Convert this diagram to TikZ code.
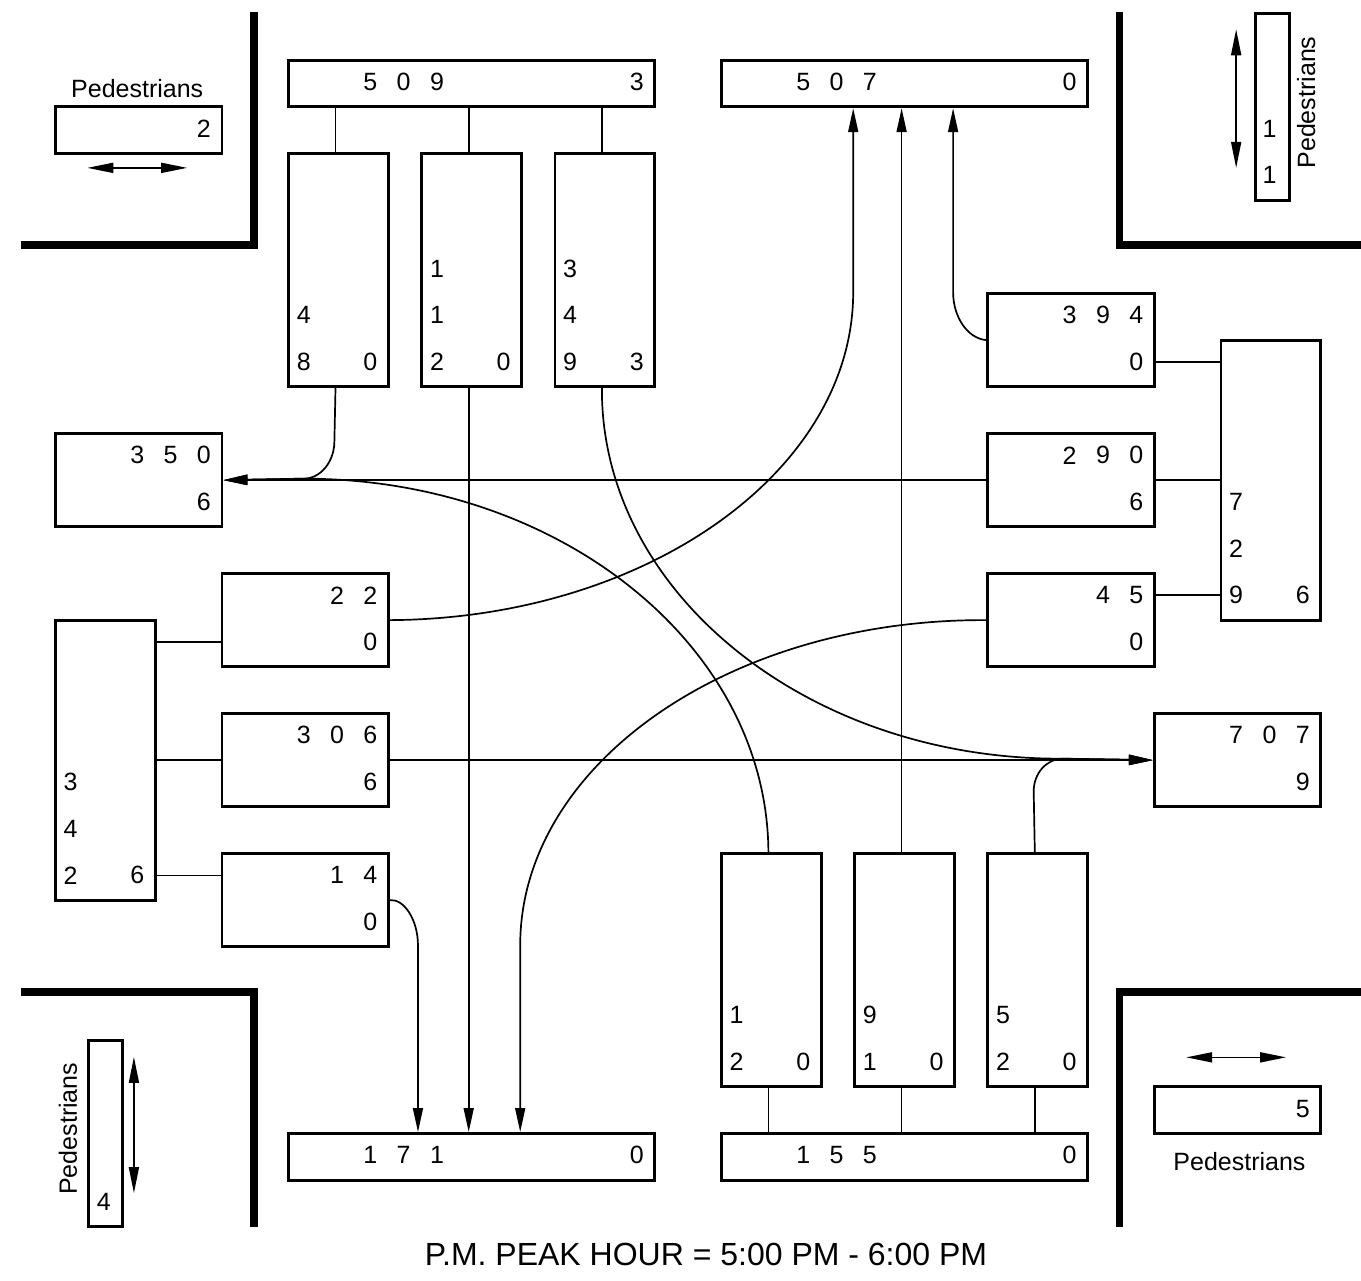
\documentclass[tikz,border=0pt]{standalone}
\usepackage{fontspec}
\setmainfont{Liberation Sans}
\usetikzlibrary{arrows.meta}
\newcommand\dg[3]{\node[dig] (d#1x#2) at ({#1+0.5},{#2+0.5}) {#3};}
\begin{document}
\begin{tikzpicture}[x=33.3pt, y=-46.667pt,
  box/.style={draw, line width=2.9pt, inner sep=0pt, anchor=north west},
  sz/.style 2 args={minimum width={#1*33.3pt}, minimum height={#2*46.667pt}},
  dig/.style={font=\fontsize{25}{30}\selectfont, inner sep=0pt},
  con/.style={line width=1.7pt},
  arr/.style={con, -{Triangle[length=24pt,width=10pt]}},
  ped/.style={line width=1.7pt, {Triangle[length=26pt,width=10pt]}-{Triangle[length=26pt,width=10pt]}},
  wall/.style={line width=7.7pt},
  sh/.style={xshift=-3pt},
]
\useasboundingbox (-1.62162,-0.25714) rectangle (39.2492,27.1918);

% walls
\draw[wall] (-1,5) -- (6,5) -- (6,0);
\draw[wall] (32,0) -- (32,5) -- (39.4,5);
\draw[wall] (-1,21) -- (6,21) -- (6,26.04);
\draw[wall] (39.4,21) -- (32,21) -- (32,26.04);

% boxes
\node[box,sz={11}{1}] (bN) at (7,1) {};
\node[box,sz={11}{1}] (bNo) at (20,1) {};
\node[box,sz={3}{5}] (bN1) at (7,3) {};
\node[box,sz={3}{5}] (bN2) at (11,3) {};
\node[box,sz={3}{5}] (bN3) at (15,3) {};
\node[box,sz={5}{2}] (bWo) at (0,9) {};
\node[box,sz={5}{2}] (bW1) at (5,12) {};
\node[box,sz={5}{2}] (bW2) at (5,15) {};
\node[box,sz={5}{2}] (bW3) at (5,18) {};
\node[box,sz={3}{6}] (bW) at (0,13) {};
\node[box,sz={5}{2}] (bE1) at (28,6) {};
\node[box,sz={5}{2}] (bE2) at (28,9) {};
\node[box,sz={5}{2}] (bE3) at (28,12) {};
\node[box,sz={3}{6}] (bE) at (35,7) {};
\node[box,sz={5}{2}] (bEo) at (33,15) {};
\node[box,sz={3}{5}] (bS1) at (20,18) {};
\node[box,sz={3}{5}] (bS2) at (24,18) {};
\node[box,sz={3}{5}] (bS3) at (28,18) {};
\node[box,sz={11}{1}] (bSo) at (7,24) {};
\node[box,sz={11}{1}] (bS) at (20,24) {};
% pedestrian boxes
\node[box,sz={5}{1}] (pNW) at (0,2) {};
\node[box,sz={1}{4}] (pNE) at (36.05,0) {};
\node[box,sz={1}{4}] (pSW) at (1,22) {};
\node[box,sz={5}{1}] (pSE) at (33,23) {};

% digits
\dg{9}{1}{5}\dg{10}{1}{0}\dg{11}{1}{9}\dg{17}{1}{3}
\dg{22}{1}{5}\dg{23}{1}{0}\dg{24}{1}{7}\dg{30}{1}{0}
\dg{7}{6}{4}\dg{7}{7}{8}\dg{9}{7}{0}
\dg{11}{5}{1}\dg{11}{6}{1}\dg{11}{7}{2}\dg{13}{7}{0}
\dg{15}{5}{3}\dg{15}{6}{4}\dg{15}{7}{9}\dg{17}{7}{3}
\dg{2}{9}{3}\dg{3}{9}{5}\dg{4}{9}{0}\dg{4}{10}{6}
\dg{8}{12}{2}\dg{9}{12}{2}\dg{9}{13}{0}
\dg{7}{15}{3}\dg{8}{15}{0}\dg{9}{15}{6}\dg{9}{16}{6}
\dg{8}{18}{1}\dg{9}{18}{4}\dg{9}{19}{0}
\dg{0}{16}{3}\dg{0}{17}{4}\dg{0}{18}{2}\dg{2}{18}{6}
\dg{30}{6}{3}\dg{31}{6}{9}\dg{32}{6}{4}\dg{32}{7}{0}
\dg{30}{9}{2}\dg{31}{9}{9}\dg{32}{9}{0}\dg{32}{10}{6}
\dg{31}{12}{4}\dg{32}{12}{5}\dg{32}{13}{0}
\dg{35}{10}{7}\dg{35}{11}{2}\dg{35}{12}{9}\dg{37}{12}{6}
\dg{35}{15}{7}\dg{36}{15}{0}\dg{37}{15}{7}\dg{37}{16}{9}
\dg{20}{21}{1}\dg{20}{22}{2}\dg{22}{22}{0}
\dg{24}{21}{9}\dg{24}{22}{1}\dg{26}{22}{0}
\dg{28}{21}{5}\dg{28}{22}{2}\dg{30}{22}{0}
\dg{9}{24}{1}\dg{10}{24}{7}\dg{11}{24}{1}\dg{17}{24}{0}
\dg{22}{24}{1}\dg{23}{24}{5}\dg{24}{24}{5}\dg{30}{24}{0}
\dg{4}{2}{2}
\dg{36}{2}{1}\dg{36}{3}{1}
\dg{1}{25}{4}
\dg{37}{23}{5}

% pedestrian labels
\node[dig] (tNW) at (2.5,1.63) {Pedestrians};
\node[dig, rotate=90] (tNE) at (37.6,1.94) {Pedestrians};
\node[dig, rotate=90] (tSW) at (0.42,23.93) {Pedestrians};
\node[dig] (tSE) at (35.6,24.64) {Pedestrians};
\node[font=\fontsize{32}{38}\selectfont, inner sep=0pt] (cap) at (19.58,26.62) {P.M. PEAK HOUR = 5:00 PM - 6:00 PM};

% pedestrian arrows
\coordinate (pa1) at (1,3.34); \coordinate (pa2) at (4,3.34);
\coordinate (pb1) at (35.5,0.37); \coordinate (pb2) at (35.5,3.34);
\coordinate (pc1) at (2.4,22.39); \coordinate (pc2) at (2.4,25.31);
\coordinate (pd1) at (34,22.4); \coordinate (pd2) at (37,22.4);
\draw[ped] (pa1) -- (pa2);
\draw[ped] (pb1) -- (pb2);
\draw[ped] (pc1) -- (pc2);
\draw[ped] (pd1) -- (pd2);

% lane connectors
\draw[con] ([sh]bN1.north) -- ([sh]bN1.north |- bN.south);
\draw[con] ([sh]bN2.north) -- ([sh]bN2.north |- bN.south);
\draw[con] ([sh]bN3.north) -- ([sh]bN3.north |- bN.south);
\draw[con] ([sh]bS1.south) -- ([sh]bS1.south |- bS.north);
\draw[con] ([sh]bS2.south) -- ([sh]bS2.south |- bS.north);
\draw[con] ([sh]bS3.south) -- ([sh]bS3.south |- bS.north);
\coordinate (yL1) at (0,13.5); \coordinate (yL3) at (0,18.5);
\coordinate (yR1) at (0,7.5); \coordinate (yR3) at (0,12.5);
\draw[con] (bW.east |- yL1) -- (bW1.west |- yL1);
\draw[con] (bW.east |- bW2.west) -- (bW2.west);
\draw[con] (bW.east |- yL3) -- (bW3.west |- yL3);
\draw[con] (bE1.east |- yR1) -- (bE.west |- yR1);
\draw[con] (bE2.east) -- (bE.west |- bE2.east);
\draw[con] (bE3.east |- yR3) -- (bE.west |- yR3);

% movements
\coordinate (xE) at (24,0); \coordinate (xF) at (27,0);
\coordinate (xH) at (14,0); \coordinate (xJ) at (10.93,0);
\draw[arr] (bE2.west) -- (bWo.east);
\draw[arr] (bW2.east) -- (bEo.west);
\draw[arr] ([sh]bN1.south) -- (8.42,9.2) .. controls (8.42,9.64) and (8.0,10) .. (7.5,10) -- (bWo.east);
\draw[arr] ([sh]bS1.north) .. controls (21.42,13.58) and (15.19,10) .. (7.5,10) -- (bWo.east);
\draw[arr] ([sh]bN3.south) .. controls (16.42,12.42) and (22.59,16) .. (30.2,16) -- (bEo.west);
\draw[arr] ([sh]bS3.north) -- (29.42,16.7) .. controls (29.42,16.31) and (29.81,16) .. (30.3,16) -- (bEo.west);
\draw[arr] (bW1.east) .. controls (17.73,13) and (24,9.87) .. (24,6) -- (xE |- bNo.south);
\draw[arr] (bE1.west) .. controls (27.45,7) and (27,6.55) .. (27,6) -- (xF |- bNo.south);
\draw[arr] ([sh]bS2.north) -- ([sh]bS2.north |- bNo.south);
\draw[arr] (bE3.west) .. controls (20.27,13) and (14,16.13) .. (14,20) -- (xH |- bSo.north);
\draw[arr] ([sh]bN2.south) -- ([sh]bN2.south |- bSo.north);
\draw[arr] (bW3.east) .. controls (10.51,19) and (10.93,19.45) .. (10.93,20) -- (xJ |- bSo.north);
\end{tikzpicture}
\end{document}
